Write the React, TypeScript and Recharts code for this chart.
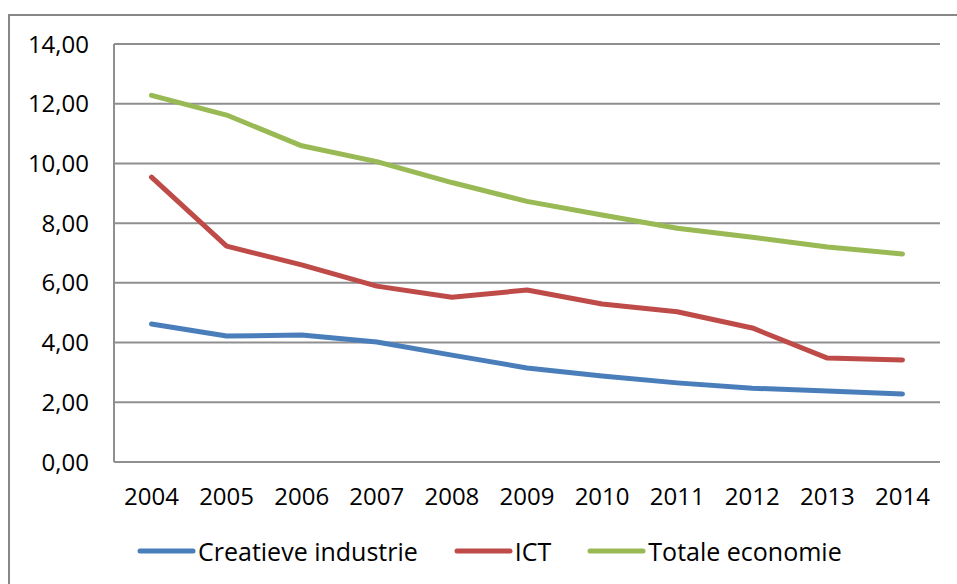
import React from 'react';
import { LineChart, Line, XAxis, YAxis, CartesianGrid } from 'recharts';

const years = ['2004', '2005', '2006', '2007', '2008', '2009', '2010', '2011', '2012', '2013', '2014'];
const creatieve = [4.62, 4.22, 4.25, 4.02, 3.58, 3.15, 2.88, 2.65, 2.47, 2.38, 2.28];
const ict = [9.54, 7.23, 6.6, 5.89, 5.52, 5.76, 5.29, 5.03, 4.49, 3.48, 3.42];
const totale = [12.28, 11.62, 10.59, 10.06, 9.36, 8.73, 8.27, 7.83, 7.53, 7.2, 6.97];
const yTicks = [0, 2, 4, 6, 8, 10, 12, 14];

const seriesNames = ['Creatieve industrie', 'ICT', 'Totale economie'];
const seriesColors = ['#4a7ebb', '#be4b48', '#98b954'];

const data = years.map((y, i) => ({
  year: y,
  c: creatieve[i],
  i: ict[i],
  t: totale[i],
}));

const FONT = '"Open Sans", "DejaVu Sans", sans-serif';

export default function App() {
  return (
    <div style={{ position: 'fixed', left: 0, top: 0, width: 957, height: 584, overflow: 'hidden', background: '#fff' }}>
      <div style={{ position: 'absolute', left: 8, top: 14, width: 2000, height: 2000, border: '2px solid #878787' }} />
      <div style={{ position: 'absolute', left: 0, top: 0 }}>
        <LineChart width={957} height={584} data={data} margin={{ top: 44, right: 17, bottom: 92, left: 0 }}>
          <CartesianGrid vertical={false} stroke="#8f8f8f" strokeWidth={2} />
          <XAxis
            dataKey="year"
            height={30}
            padding={{ left: 37.5, right: 37.5 }}
            tickLine={false}
            tickSize={0}
            tickMargin={26}
            axisLine={{ stroke: '#8f8f8f', strokeWidth: 2 }}
            tick={{ fill: '#000', fontSize: 24, fontFamily: FONT }}
            interval={0}
          />
          <YAxis
            width={114}
            domain={[0, 14]}
            ticks={yTicks}
            tickFormatter={(v: number) => v.toFixed(2).replace('.', ',')}
            tickLine={false}
            tickSize={0}
            tickMargin={25}
            axisLine={{ stroke: '#8f8f8f', strokeWidth: 2 }}
            tick={{ fill: '#000', fontSize: 24, fontFamily: FONT }}
          />
          <Line type="linear" dataKey="c" name={seriesNames[0]} stroke={seriesColors[0]} strokeWidth={5} strokeLinecap="round" strokeLinejoin="round" dot={false} isAnimationActive={false} />
          <Line type="linear" dataKey="i" name={seriesNames[1]} stroke={seriesColors[1]} strokeWidth={5} strokeLinecap="round" strokeLinejoin="round" dot={false} isAnimationActive={false} />
          <Line type="linear" dataKey="t" name={seriesNames[2]} stroke={seriesColors[2]} strokeWidth={5} strokeLinecap="round" strokeLinejoin="round" dot={false} isAnimationActive={false} />
        </LineChart>
      </div>
      <div
        style={{
          position: 'absolute',
          left: 137,
          top: 533,
          display: 'flex',
          alignItems: 'center',
          fontFamily: FONT,
          fontSize: 25,
          color: '#000',
          whiteSpace: 'nowrap',
          lineHeight: '36px',
        }}
      >
        {seriesNames.map((n, k) => (
          <div key={n} style={{ display: 'flex', alignItems: 'center', marginRight: 36 }}>
            <svg width={59} height={10} style={{ marginRight: 2 }}>
              <line x1={3} y1={5} x2={56} y2={5} stroke={seriesColors[k]} strokeWidth={5} strokeLinecap="round" />
            </svg>
            <span>{n}</span>
          </div>
        ))}
      </div>
    </div>
  );
}
